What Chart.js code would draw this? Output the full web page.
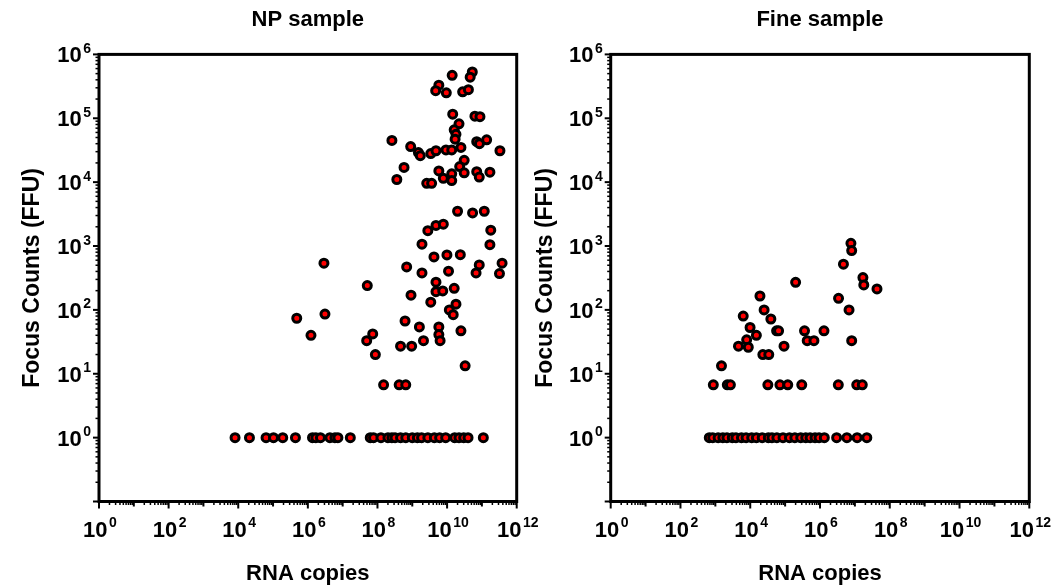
<!DOCTYPE html>
<html><head><meta charset="utf-8">
<script src="https://cdn.jsdelivr.net/npm/chart.js@4.4.1/dist/chart.umd.min.js"></script>
<style>
html,body{margin:0;padding:0;background:#fff;width:1053px;height:587px;overflow:hidden;}
.box{position:absolute;top:0;width:540px;height:587px;}
canvas{display:block;}
</style></head><body>
<div class="box" style="left:0"><canvas id="c1" width="540" height="587"></canvas></div>
<div class="box" style="left:513px"><canvas id="c2" width="540" height="587"></canvas></div>
<script>
// ---- data ----
const npTitle = 'NP sample';
const fineTitle = 'Fine sample';
const xTitle = 'RNA copies';
const yTitle = 'Focus Counts (FFU)';

const npRNA = [
  1.4e10,5.3e10,4.6e10,5.8e9,4.7e9,9.5e9,2.8e10,4.1e10,1.45e10,6.3e10,8.8e10,2.2e10,1.6e10,1.8e10,1.7e10,
  2.6e8,9.0e8,1.5e9,1.7e9,3.4e9,4.8e9,9.3e9,1.36e10,2.5e10,7.1e10,8.5e10,1.37e11,3.3e11,
  3.1e10,2.3e10,5.8e8,5.8e9,1.36e10,3.1e10,7.1e10,8.4e10,1.7e11,3.6e8,2.6e9,3.6e9,7.8e9,1.36e10,
  2.0e10,5.4e10,1.17e11,2.8e9,4.8e9,7.8e9,1.8e11,1.9e9,1.7e11,4.2e9,9.9e9,2.4e10,6.9e8,1.9e9,1.1e10,
  8.4e10,6.8e10,3.8e11,3.2e11,5.1e7,9.2e8,4.8e9,4.8e9,7.5e9,1.6e10,3.4e9,1.16e10,1.8e10,1.5e10,2.9e6,
  6.2e8,1.6e9,5.8e9,5.8e9,6.3e9,2.5e10,7.3e7,4.9e7,4.6e8,9.6e8,2.1e9,8.7e7,3.3e10,1.5e8,4.2e8,6.5e8,
  4.8e5,3.1e6,1.23e6,
  8.1e3,2.1e4,6.3e4,1.03e5,1.9e5,4.4e5,1.36e6,1.7e6,2.3e6,4.3e6,6.0e6,7.3e6,1.66e7,
  6.2e7,7.7e7,1.26e8,2.0e8,2.6e8,3.2e8,4.6e8,6.5e8,1.0e9,1.4e9,1.85e9,2.8e9,4.3e9,6.1e9,9.1e9,
  1.65e10,2.2e10,3.0e10,4.0e10,1.1e11
];
const npFFU = [
  4.7e5,5.3e5,4.4e5,3.3e5,2.7e5,2.5e5,2.6e5,2.8e5,1.16e5,1.08e5,1.06e5,8.2e4,6.6e4,5.6e4,4.7e4,
  4.5e4,3.6e4,2.9e4,2.6e4,2.8e4,3.1e4,3.2e4,3.2e4,3.5e4,4.3e4,4.0e4,4.6e4,3.1e4,
  2.2e4,1.75e4,1.7e4,1.5e4,1.35e4,1.4e4,1.46e4,1.2e4,1.43e4,1.1e4,9.6e3,9.6e3,1.15e4,1.06e4,
  3.5e3,3.3e3,3.5e3,1.74e3,2.1e3,2.2e3,1.77e3,1.07e3,1.05e3,675,725,733,470,379,403,
  506,379,538,370,240,170,271,193,198,218,132,100,123,84,538,
  67,54,54,41,33,47,42,33,27,27,33,20,13.3,6.7,6.7,6.7,
  74,86,40,
  1,1,1,1,1,1,1,1,1,1,1,1,1,
  1,1,1,1,1,1,1,1,1,1,1,1,1,1,1,
  1,1,1,1,1
];

const fineRNA = [
  7.7e6,8.1e6,4.7e6,2.0e5,1.7e7,1.8e7,4.3e7,1.9e4,3.4e6,6.8e6,2.5e4,6.3e3,3.9e4,9.9e3,1.5e4,
  5.7e4,6.5e4,3.6e5,1.3e6,7.9e3,4.6e3,8.8e3,2.3e4,3.4e4,9.3e4,4.3e5,6.7e5,8.1e6,1.5e3,
  875,2.2e3,2.7e3,3.2e4,7.1e4,1.19e5,3.0e5,3.35e6,1.13e7,1.63e7,
  670,840,1.2e3,1.64e3,2.15e3,3.06e3,3.9e3,5.6e3,7.6e3,1.1e4,1.5e4,2.2e4,3.3e4,4.2e4,5.8e4,
  8.7e4,1.33e5,1.9e5,2.8e5,3.9e5,5.2e5,7.2e5,9.4e5,1.33e6,3.0e6,5.9e6,1.16e7,2.2e7
];
const fineFFU = [
  1100,850,520,270,320,246,213,165,152,100,100,80,72,53,40,
  47,47,47,47,34,27,26,20,20,27,33,33,33,13.3,
  6.7,6.7,6.7,6.7,6.7,6.7,6.7,6.7,6.7,6.7,
  1,1,1,1,1,1,1,1,1,1,1,1,1,1,1,
  1,1,1,1,1,1,1,1,1,1,1,1,1
];

const xLabelExps = [0,2,4,6,8,10,12];
const yLabelExps = [0,1,2,3,4,5,6];
const xMin = 1, xMax = 1e12, yMin = 0.1, yMax = 1e6;

// ---- drawing ----
const FONT = '"Liberation Sans", Arial, Helvetica, sans-serif';
Chart.defaults.font.family = FONT;
Chart.defaults.color = '#000';

function drawPow(ctx, exp, x, y, align) {
  const base = '10', sup = String(exp);
  ctx.font = 'bold 22px ' + FONT;
  const wb = ctx.measureText(base).width;
  ctx.font = 'bold 14px ' + FONT;
  const ws = ctx.measureText(sup).width;
  const gap = 1.5;
  const total = wb + gap + ws;
  const x0 = align === 'center' ? x - total / 2 : x - total;
  ctx.textAlign = 'left';
  ctx.textBaseline = 'alphabetic';
  ctx.fillStyle = '#000';
  ctx.font = 'bold 22px ' + FONT;
  ctx.fillText(base, x0, y);
  ctx.font = 'bold 14px ' + FONT;
  ctx.fillText(sup, x0 + wb + gap, y - 9.5);
}

const prismAxes = {
  id: 'prismAxes',
  beforeDatasetsDraw(chart) {
    const {ctx, chartArea: a, scales: {x, y}} = chart;
    ctx.save();
    ctx.strokeStyle = '#000';
    // x ticks
    for (let e = 0; e <= 12; e++) {
      for (let m = 1; m < 10; m++) {
        const v = m * Math.pow(10, e);
        if (v < xMin || v > xMax) continue;
        const px = x.getPixelForValue(v);
        const len = m === 1 ? (xLabelExps.includes(e) ? 7 : 5) : 3.5;
        ctx.lineWidth = m === 1 ? 2 : 1.5;
        ctx.beginPath(); ctx.moveTo(px, a.bottom); ctx.lineTo(px, a.bottom + len); ctx.stroke();
      }
    }
    // y ticks
    for (let e = -1; e <= 6; e++) {
      for (let m = 1; m < 10; m++) {
        const v = m * Math.pow(10, e);
        if (v < yMin * 0.999 || v > yMax * 1.001) continue;
        const py = y.getPixelForValue(v);
        const len = m === 1 ? 6 : 3.5;
        ctx.lineWidth = m === 1 ? 2 : 1.5;
        ctx.beginPath(); ctx.moveTo(a.left, py); ctx.lineTo(a.left - len, py); ctx.stroke();
      }
    }
    // frame
    ctx.lineWidth = 3;
    ctx.strokeRect(a.left, a.top, a.right - a.left, a.bottom - a.top);
    // labels
    xLabelExps.forEach(e => drawPow(ctx, e, x.getPixelForValue(Math.pow(10, e)) + 1, a.bottom + 35, 'center'));
    yLabelExps.forEach(e => drawPow(ctx, e, a.left - 8, y.getPixelForValue(Math.pow(10, e)) + 8, 'right'));
    ctx.restore();
  }
};

function makeChart(id, title, xs, ys, yWidth, rightPad) {
  const pts = xs.map((v, i) => ({x: v, y: ys[i]}));
  const titleFont = {family: FONT, size: 22, weight: 'bold'};
  return new Chart(document.getElementById(id), {
    type: 'scatter',
    data: {datasets: [{
      data: pts, pointRadius: 4, pointHoverRadius: 4, borderWidth: 3,
      borderColor: '#000', backgroundColor: '#ff0000'
    }]},
    options: {
      responsive: false, animation: false, events: [],
      layout: {padding: {left: 0, right: rightPad, top: 0, bottom: 0}},
      plugins: {
        legend: {display: false}, tooltip: {enabled: false},
        title: {display: true, text: title, fullSize: false, color: '#000', font: titleFont, padding: {top: 7, bottom: 21}}
      },
      scales: {
        x: {
          type: 'logarithmic', min: xMin, max: xMax,
          grid: {display: false}, border: {display: false}, ticks: {display: false},
          title: {display: true, text: xTitle, color: '#000', font: titleFont, padding: {top: 0, bottom: 0}},
          afterFit(s) { s.height = 85.5; }
        },
        y: {
          type: 'logarithmic', min: yMin, max: yMax,
          grid: {display: false}, border: {display: false}, ticks: {display: false},
          title: {display: true, text: yTitle, color: '#000', font: {family: FONT, size: 23, weight: 'bold'}, padding: {top: 19, bottom: 0}},
          afterFit(s) { s.width = yWidth; }
        }
      }
    },
    plugins: [prismAxes]
  });
}

makeChart('c1', npTitle, npRNA, npFFU, 99, 23.3);
makeChart('c2', fineTitle, fineRNA, fineFFU, 97.7, 23.7);
</script>
</body></html>
